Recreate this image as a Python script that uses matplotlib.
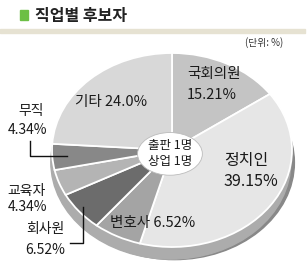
import matplotlib
matplotlib.use("Agg")
import matplotlib.pyplot as plt
from matplotlib.patches import Ellipse, Rectangle

plt.rcParams['font.family'] = ['Noto Sans CJK KR', 'DejaVu Sans']

# --- data ---
title = "직업별 후보자"
unit = "(단위: %)"
jobs = ["국회의원", "정치인", "변호사", "회사원", "교육자", "무직", "기타"]
shares = [15.21, 39.15, 6.52, 6.52, 4.34, 4.34, 24.0]
colors = ["#c4c4c4", "#e6e6e6", "#a4a4a4", "#6c6c6c", "#b4b4b4", "#888888", "#d8d8d8"]
center_note = "출판 1명\n상업 1명"

W, H = 308, 270
fig = plt.figure(figsize=(W / 100, H / 100), dpi=100)

# background axes in pixel coords
bg = fig.add_axes([0, 0, 1, 1])
bg.set_xlim(0, W)
bg.set_ylim(H, 0)
bg.axis('off')

# header
bg.add_patch(Rectangle((20, 10), 8, 10, color="#6cbf45"))
bg.text(35, 15.5, title, fontsize=11.5, fontweight='bold', va='center', ha='left', color="#222222")
bg.add_patch(Rectangle((0, 29), 305, 4, color="#e6e2d2"))
bg.text(283, 43, unit, fontsize=7, ha='right', va='center', color="#333333")

# pie geometry (pixels)
cx, cy, rx, ry = 172, 150, 120, 97
pie_ax = fig.add_axes([(cx - rx) / W, (H - cy - ry) / H, 2 * rx / W, 2 * ry / H])
pie_ax.set_zorder(0)
bg.set_zorder(1)
bg.patch.set_alpha(0)

# 3d side
pie_ax.add_patch(Ellipse((0.02, -0.13), 2, 2, color="#888888", clip_on=False))
pie_ax.add_patch(Ellipse((-0.01, -0.125), 2, 2, color="#acacac", clip_on=False))

pie_ax.pie(shares, colors=colors, startangle=90, counterclock=False,
           wedgeprops=dict(edgecolor="white", linewidth=1.3))
pie_ax.set_aspect('auto')
pie_ax.set_xlim(-1, 1)
pie_ax.set_ylim(-1, 1)
pie_ax.axis('off')

# hole
pie_ax.add_patch(Ellipse((-0.017, -0.04), 0.54, 0.44, facecolor="white",
                         edgecolor="#bbbbbb", linewidth=0.6))

# labels
txt = dict(va='center', color="#1a1a1a")
bg.text(187, 74, jobs[0], fontsize=10.5, ha='left', **txt)
bg.text(187, 95, f"{shares[0]:.2f}%", fontsize=10.5, ha='left', **txt)
bg.text(224, 161, jobs[1], fontsize=11.5, ha='left', **txt)
bg.text(224, 181, f"{shares[1]:.2f}%", fontsize=11.5, ha='left', **txt)
bg.text(111, 102, f"{jobs[6]} {shares[6]:.1f}%", fontsize=10.5, ha='center', **txt)
bg.text(153, 223, f"{jobs[2]} {shares[2]:.2f}%", fontsize=10.5, ha='center', **txt)
bg.text(170, 154, center_note, fontsize=9, ha='center', linespacing=1.3, **txt)

# outside labels
bg.text(31, 111, jobs[5], fontsize=10, ha='center', **txt)
bg.text(27, 130, f"{shares[5]:.2f}%", fontsize=10, ha='center', **txt)
bg.text(26, 191, jobs[4], fontsize=10, ha='center', **txt)
bg.text(27, 207, f"{shares[4]:.2f}%", fontsize=10, ha='center', **txt)
bg.text(45, 229, jobs[3], fontsize=10, ha='center', **txt)
bg.text(45, 250, f"{shares[3]:.2f}%", fontsize=10, ha='center', **txt)

bg.plot([30, 30, 67], [141, 156, 156], color="#111111", lw=1)
bg.plot([70, 83, 83], [243, 243, 207], color="#111111", lw=1)

fig.savefig("out.png", dpi=100)
